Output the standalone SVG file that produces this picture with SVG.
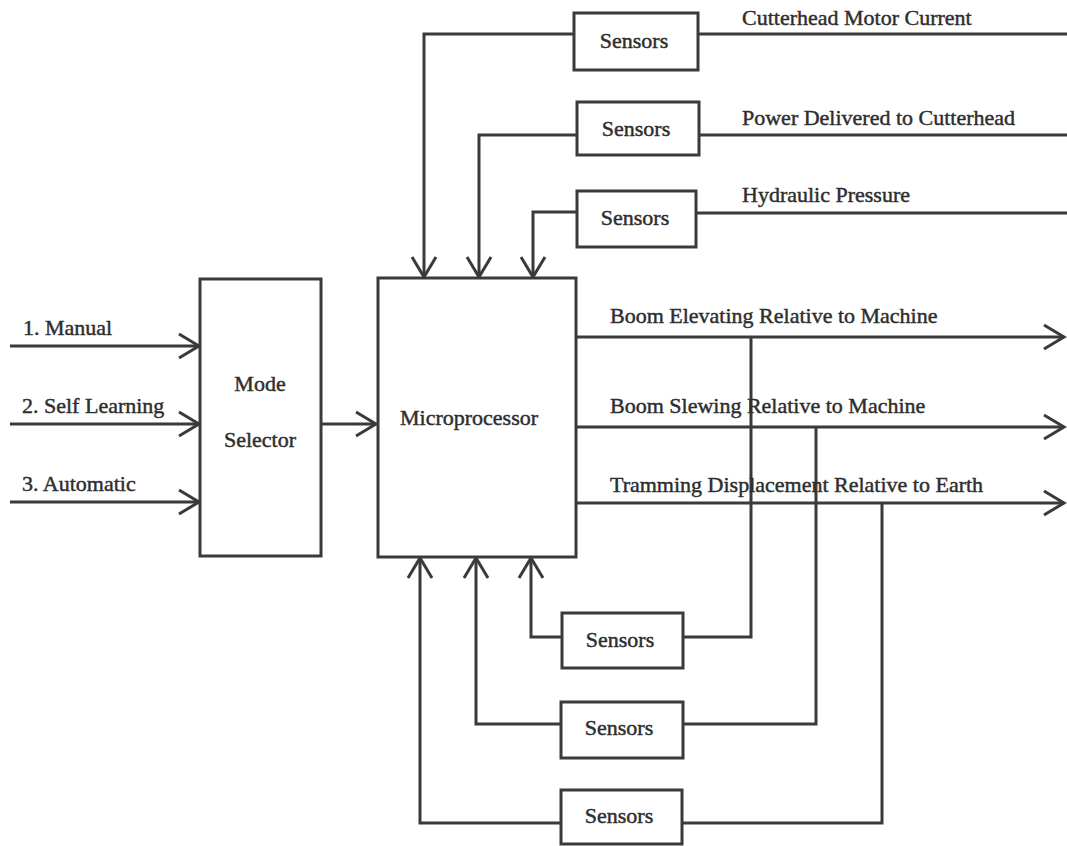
<svg xmlns="http://www.w3.org/2000/svg" width="1067" height="846" viewBox="0 0 1067 846">
  <style>
    .box { fill: #ffffff; stroke: #3a3a3a; stroke-width: 3; }
    .wire { fill: none; stroke: #3a3a3a; stroke-width: 3; stroke-linejoin: miter; }
    .lbl { font-family: 'Liberation Serif', 'Times New Roman', Times, serif; font-size: 22px; fill: #2e2e2e; stroke: #2e2e2e; stroke-width: 0.45; }
    .mid { text-anchor: middle; }
  </style>
  <defs>
    <marker id="arr" markerUnits="userSpaceOnUse" markerWidth="30" markerHeight="30" viewBox="-24 -15 28 30" refX="0" refY="0" orient="auto" overflow="visible">
      <path d="M-20,-12 L0,0 L-20,12" fill="none" stroke="#3a3a3a" stroke-width="3"/>
    </marker>
  </defs>
  <rect width="1067" height="846" fill="#ffffff"/>

  <!-- connectors -->
  <g id="connectors">
    <!-- mode inputs -->
    <path class="wire" d="M10,346 H199" marker-end="url(#arr)"/>
    <path class="wire" d="M10,424 H199" marker-end="url(#arr)"/>
    <path class="wire" d="M10,502 H199" marker-end="url(#arr)"/>
    <!-- mode selector to microprocessor -->
    <path class="wire" d="M322,424 H376" marker-end="url(#arr)"/>
    <!-- upper sensors into microprocessor -->
    <path class="wire" d="M574,34 H424 V277" marker-end="url(#arr)"/>
    <path class="wire" d="M577,135 H479 V277" marker-end="url(#arr)"/>
    <path class="wire" d="M577,212 H533 V277" marker-end="url(#arr)"/>
    <!-- measured quantities feeding upper sensors -->
    <path class="wire" d="M698,34 H1067"/>
    <path class="wire" d="M699,135 H1067"/>
    <path class="wire" d="M696,213 H1067"/>
    <!-- microprocessor outputs -->
    <path class="wire" d="M577,337 H1064" marker-end="url(#arr)"/>
    <path class="wire" d="M577,427 H1064" marker-end="url(#arr)"/>
    <path class="wire" d="M577,503 H1064" marker-end="url(#arr)"/>
    <!-- output feedback through lower sensors -->
    <path class="wire" d="M751,337 V637 H683"/>
    <path class="wire" d="M562,637 H531 V558" marker-end="url(#arr)"/>
    <path class="wire" d="M816,427 V724 H683"/>
    <path class="wire" d="M561,724 H476 V558" marker-end="url(#arr)"/>
    <path class="wire" d="M882,503 V823 H682"/>
    <path class="wire" d="M561,823 H420 V558" marker-end="url(#arr)"/>
  </g>

  <!-- connector labels -->
  <g id="labels">
    <text class="lbl" x="23" y="335">1. Manual</text>
    <text class="lbl" x="22" y="413">2. Self Learning</text>
    <text class="lbl" x="22" y="491">3. Automatic</text>
    <text class="lbl" x="742" y="25">Cutterhead Motor Current</text>
    <text class="lbl" x="742" y="125">Power Delivered to Cutterhead</text>
    <text class="lbl" x="742" y="202">Hydraulic Pressure</text>
    <text class="lbl" x="610" y="323">Boom Elevating Relative to Machine</text>
    <text class="lbl" x="610" y="413">Boom Slewing Relative to Machine</text>
    <text class="lbl" x="610" y="492">Tramming Displacement Relative to Earth</text>
  </g>

  <g id="mode-selector">
    <rect class="box" x="200" y="279" width="121" height="277"/>
    <text class="lbl mid" x="260" y="391">Mode</text>
    <text class="lbl mid" x="260" y="447">Selector</text>
  </g>

  <g id="microprocessor">
    <rect class="box" x="378" y="278" width="198" height="279"/>
    <text class="lbl mid" x="469" y="425">Microprocessor</text>
  </g>

  <g id="sensors-current">
    <rect class="box" x="574" y="13" width="124" height="57"/>
    <text class="lbl mid" x="634" y="48">Sensors</text>
  </g>
  <g id="sensors-power">
    <rect class="box" x="577" y="102" width="122" height="53"/>
    <text class="lbl mid" x="636" y="136">Sensors</text>
  </g>
  <g id="sensors-hydraulic">
    <rect class="box" x="577" y="191" width="119" height="56"/>
    <text class="lbl mid" x="635" y="225">Sensors</text>
  </g>

  <g id="sensors-elevating">
    <rect class="box" x="562" y="613" width="121" height="55"/>
    <text class="lbl mid" x="620" y="647">Sensors</text>
  </g>
  <g id="sensors-slewing">
    <rect class="box" x="561" y="702" width="122" height="56"/>
    <text class="lbl mid" x="619" y="735">Sensors</text>
  </g>
  <g id="sensors-tramming">
    <rect class="box" x="561" y="790" width="121" height="54"/>
    <text class="lbl mid" x="619" y="823">Sensors</text>
  </g>
</svg>
